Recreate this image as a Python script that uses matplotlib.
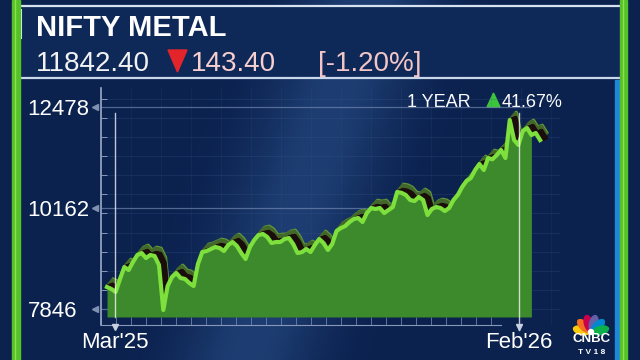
import numpy as np
import matplotlib.pyplot as plt
from matplotlib import transforms
from matplotlib.patches import Ellipse, Polygon, Rectangle

# NIFTY METAL, roughly one year of closes
values = [8350, 8305, 8236, 8534, 8809, 8740, 8924, 9084, 9130, 9015,
          9084, 9061, 8855, 7823, 8373, 8580, 8671, 8557, 8534, 8442,
          8373, 8878, 9153, 9176, 9222, 9268, 9245, 9176, 9314, 9382,
          9291, 9130, 8993, 9268, 9428, 9543, 9566, 9497, 9359, 9382,
          9382, 9451, 9474, 9336, 9130, 9150, 9222, 9153, 9314, 9451,
          9359, 9199, 9336, 9635, 9703, 9749, 9841, 9910, 9933, 9841,
          10047, 10162, 10139, 10162, 10047, 10116, 10185, 10529, 10510, 10460,
          10345, 10322, 10414, 10345, 10001, 10139, 10185, 10162, 10093, 10162,
          10345, 10460, 10643, 10781, 10850, 11033, 11171, 11033, 11308, 11280,
          11377, 11492, 11308, 12180, 11721, 11607, 11928, 11996, 11836, 11882,
          11720]
idx = np.arange(len(values))

y_ticks = [7846, 10162, 12478]
x_tick_pos = [1.85, 95.15]
x_tick_labels = ["Mar'25", "Feb'26"]

title = "NIFTY METAL"
last_price = "11842.40"
change = "143.40"
change_pct = "[-1.20%]"
period = "1 YEAR"
period_pct = "41.67%"

fig = plt.figure(figsize=(6.4, 3.6), dpi=100)

# ---- background / frame (pixel coords) ----
bg = fig.add_axes([0, 0, 1, 1])
bg.set_xlim(0, 640)
bg.set_ylim(360, 0)
bg.axis('off')

yy, xx = np.mgrid[0:360, 0:640]
xc = 300 + (200 - yy) * 0.34
band = np.exp(-((xx - xc) / 70.0) ** 2)
base = np.array([11, 33, 78]) / 255
light = np.array([30, 62, 115]) / 255
img = base + band[..., None] * (light - base)
bg.imshow(img, extent=[0, 640, 360, 0], aspect='auto', zorder=0)

# header box
bg.add_patch(Rectangle((20, 6), 600, 71, color=(14/255, 40/255, 88/255), zorder=1))
bg.plot([20, 620], [6, 6], color='#d6e2f0', lw=1.6, zorder=2)
bg.plot([20, 620], [78, 78], color='#c8d8ea', lw=1.6, zorder=2)
bg.plot([20.5, 20.5], [10, 38], color='#e8eef6', lw=1.5, zorder=2)

# side bars
bg.add_patch(Rectangle((12, 0), 8, 360, color='#55c22a', zorder=3))
bg.plot([15, 15], [0, 360], color='#8fe04a', lw=1, zorder=3)
bg.add_patch(Rectangle((615, 80), 4, 280, color='#1e88d8', zorder=3))
bg.add_patch(Rectangle((620, 0), 7, 360, color='#55c22a', zorder=3))
bg.plot([622.5, 622.5], [0, 360], color='#8fe04a', lw=1, zorder=3)

# header text
sans = ['Liberation Sans', 'DejaVu Sans']
bg.text(36, 36, title, fontsize=21, fontweight='bold', color='white',
        family=sans, va='baseline', zorder=4)
bg.text(36, 71, last_price, fontsize=20, color='#f2f2f2', family=sans,
        va='baseline', zorder=4)
bg.add_patch(Polygon([(168, 50), (187, 50), (177.5, 72)], color='#e3242b', zorder=4))
bg.text(191, 71, change, fontsize=20, color='#f7cfcf', family=sans,
        va='baseline', zorder=4)
bg.text(318, 71, change_pct, fontsize=20, color='#f2c6c6', family=sans,
        va='baseline', zorder=4)

# 1 year change
bg.text(407, 107, period, fontsize=13, color='white', family=sans,
        va='baseline', zorder=6)
bg.add_patch(Polygon([(487, 107), (500, 107), (493.5, 93)], color='#3cc43a', zorder=6))
bg.text(502, 107, period_pct, fontsize=13, color='white', family=sans,
        va='baseline', zorder=6)

# CNBC TV18 logo
petal_cols = ['#fccc0a', '#f37021', '#cc004c', '#6460aa', '#0089d0', '#0db14b']
for a, c in zip(np.linspace(165, 15, 6), petal_cols):
    r = np.deg2rad(a)
    bg.add_patch(Ellipse((591 + 10 * np.cos(r), 333 - 10 * np.sin(r)), 16, 8,
                         angle=-a, color=c, zorder=5))
bg.add_patch(Ellipse((591, 332), 5, 5, color='white', zorder=5))
bg.text(592, 339.5, "CNBC", fontsize=9.5, fontweight='bold', color='white',
        ha='center', va='center', family=sans, zorder=5)
bg.text(592, 353, "T V 1 8", fontsize=6, fontweight='bold', color='white',
        ha='center', va='center', family=sans, zorder=5)

# ---- chart ----
ax = fig.add_axes([101/640, 35/360, 459/640, 237/360], zorder=2)
ax.patch.set_alpha(0)
ax.set_xlim(-1.386, 104.6)
ax.set_ylim(7479, 12914)

for v in np.arange(7846 - 438, 12914, 438):
    ax.axhline(v, color='#3a5a90', lw=0.6, alpha=0.3, zorder=0)
for x in np.arange(-1.386, 104, 6.93):
    ax.axvline(x, color='#3a5a90', lw=0.6, alpha=0.18, zorder=0)
for v in y_ticks:
    ax.axhline(v, xmin=0, xmax=0.935, color='#6f86b0', lw=0.9, alpha=0.7, zorder=1)

# 3d ribbon effect
for k in range(8, 0, -1):
    tr = transforms.offset_copy(ax.transData, fig=fig, x=k * 0.8, y=k * 0.95, units='dots')
    ax.plot(idx, values, color='#5f9a3a' if k == 8 else '#43662a', lw=2.6,
            transform=tr, zorder=3, solid_joinstyle='round')
for k in range(1, 7):
    tr = transforms.offset_copy(ax.transData, fig=fig, x=k * 1.0, y=k * 0.4, units='dots')
    ax.plot(idx, values, color='#1a0d0b', lw=2.6, transform=tr, zorder=4,
            solid_joinstyle='round')

ax.fill_between(idx[:99], values[:99], 7663, color='#3d8a2c', lw=0, zorder=5)
ax.plot(idx, values, color='#7ee03c', lw=3, zorder=6, solid_joinstyle='round')

# date markers
ax.plot([x_tick_pos[0]] * 2, [7663, 12340], color='white', lw=1, alpha=0.75, zorder=7)
ax.plot([x_tick_pos[1]] * 2, [7366, 12340], color='white', lw=1, alpha=0.75, zorder=7,
        clip_on=False)
ax.plot(x_tick_pos, [7433] * 2, 'v', ms=4, color='#c8d0e0', clip_on=False, zorder=7)

# axes styling
for s in ['top', 'right']:
    ax.spines[s].set_visible(False)
ax.spines['left'].set_color('#9aaac8')
ax.spines['left'].set_linewidth(1.2)
ax.spines['bottom'].set_color('#8898b8')
ax.spines['bottom'].set_bounds(-1.386, 90.9)

ax.set_yticks(y_ticks)
ax.set_yticklabels([str(v) for v in y_ticks])
ax.set_yticks(np.arange(7846, 12914, 438), minor=True)
ax.tick_params(axis='y', which='major', length=0, pad=53, labelsize=16, labelcolor='white')
ax.tick_params(axis='y', which='minor', direction='in', length=4, color='#9aaac8')
for lbl in ax.get_yticklabels():
    lbl.set_ha('left')
    lbl.set_family(sans)

tri = transforms.blended_transform_factory(ax.transAxes, ax.transData)
ax.plot([-0.013] * 3, y_ticks, '<', ms=4, color='#8090b0', transform=tri, clip_on=False)

ax.set_xticks(x_tick_pos)
ax.set_xticklabels(x_tick_labels)
ax.set_xticks(np.arange(-1.386, 91, 3.464), minor=True)
ax.tick_params(axis='x', which='major', length=0, pad=5, labelsize=16, labelcolor='white')
ax.tick_params(axis='x', which='minor', direction='in', length=6, color='#7080a8')
for lbl in ax.get_xticklabels():
    lbl.set_family(sans)

fig.savefig('out.png', dpi=100)
